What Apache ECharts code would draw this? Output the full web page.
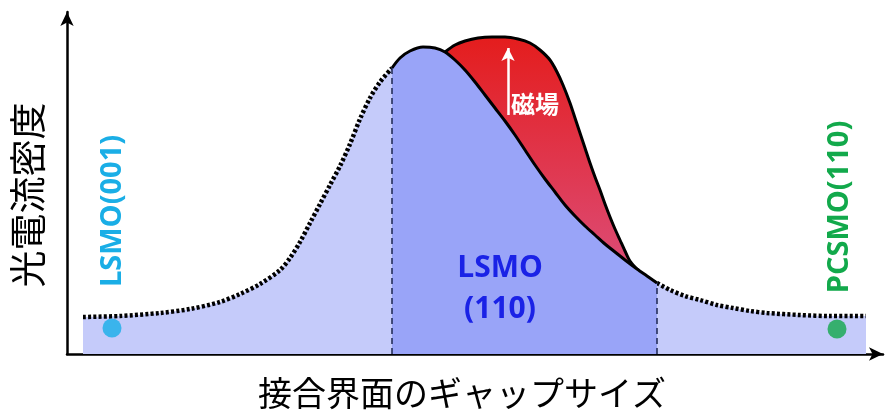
<!DOCTYPE html>
<html>
<head>
<meta charset="utf-8">
<script src="https://cdn.jsdelivr.net/npm/echarts@6/dist/echarts.min.js"></script>
<style>html,body{margin:0;padding:0;background:#fff}#c{width:891px;height:416px}</style>
</head>
<body>
<div id="c"></div>
<script>
// Schematic photocurrent density vs. gap size (arbitrary units)
var leftCurve = [[16,37],[53,38],[93,41],[123,45],[153,52],[173,60],[193,70],[213,84],[223,96],[233,112],[243,131],[253,150],[263,169],[273,188],[283,210],[293,235],[303,256],[313,272],[325,286]];
var midCurve = [[325,286],[333,296],[343,303],[356,307],[368,306],[378,302],[388,294],[398,284],[408,272],[418,259],[428,246],[438,233],[448,219],[458,204],[468,189],[478,175],[488,162],[498,149],[508,138],[518,128],[528,119],[538,110],[548,102],[558,94],[570,85],[580,78],[590,71]];
var fieldCurve = [[378,302],[388,309],[398,313],[411,316],[425,317],[438,317],[451,315],[463,311],[473,304],[483,294],[490,282],[496,269],[503,251],[508,236],[513,221],[518,206],[523,191],[528,177],[533,164],[538,150],[543,137],[548,125],[553,114],[558,103],[563,93],[573,82],[581,76],[590,71]];
var rightCurve = [[590,71],[603,64],[618,58],[633,54],[650,49],[666,46],[683,43],[700,41],[733,39],[763,38],[799,38]];
var lsmo001Point = [[45,26]];
var pcsmoPoint = [[770,25]];
var boundaryX = [325, 590];
var boundaryY = [286, 71];
var fieldArrow = {x: 441, from: 239, to: 306};
var labels = {
  yName: '光電流密度', xName: '接合界面のギャップサイズ',
  lsmo001: 'LSMO(001)', pcsmo: 'PCSMO(110)', lsmo110a: 'LSMO', lsmo110b: '(110)', field: '磁場'
};

var chart = echarts.init(document.getElementById('c'));
var dotted = {color: '#000', width: 4.5, type: [3, 2.2]};
chart.setOption({
  animation: false,
  grid: {left: 67, right: 8, top: 12, bottom: 62},
  xAxis: {type: 'value', min: 0, max: 816,
    axisLine: {show: true, symbol: ['none', 'arrow'], symbolSize: [10, 14], lineStyle: {color: '#000', width: 2.5}},
    axisTick: {show: false}, axisLabel: {show: false}, splitLine: {show: false}},
  yAxis: {type: 'value', min: 0, max: 342,
    axisLine: {show: true, symbol: ['none', 'arrow'], symbolSize: [10, 14], lineStyle: {color: '#000', width: 2.5}},
    axisTick: {show: false}, axisLabel: {show: false}, splitLine: {show: false}},
  series: [
    {type: 'line', data: leftCurve, smooth: 0.3, showSymbol: false, z: 2,
      lineStyle: dotted, areaStyle: {color: '#c5cbfa', opacity: 1}},
    {type: 'line', data: rightCurve, smooth: 0.3, showSymbol: false, z: 2,
      lineStyle: dotted, areaStyle: {color: '#c5cbfa', opacity: 1}},
    {type: 'line', data: fieldCurve, smooth: 0.3, showSymbol: false, z: 3,
      lineStyle: {color: '#000', width: 3},
      areaStyle: {opacity: 1, color: new echarts.graphic.LinearGradient(0, 0, 0, 1, [
        {offset: 0, color: '#e41d1d'}, {offset: 0.78, color: '#dc4f7c'}, {offset: 1, color: '#dc4f7c'}])}},
    {type: 'line', data: midCurve, smooth: 0.3, showSymbol: false, z: 4,
      lineStyle: {color: '#000', width: 3}, areaStyle: {color: '#99a4f8', opacity: 1},
      markLine: {silent: true, symbol: 'none', label: {show: false},
        lineStyle: {color: '#1c2650', width: 1.5, type: [6, 4]},
        data: [
          [{coord: [boundaryX[0], 0]}, {coord: [boundaryX[0], boundaryY[0]]}],
          [{coord: [boundaryX[1], 0]}, {coord: [boundaryX[1], boundaryY[1]]}]
        ]}},
    {type: 'line', data: [], z: 6,
      markLine: {silent: true, symbol: ['none', 'arrow'], symbolSize: [10, 13], label: {show: false},
        lineStyle: {color: '#fff', width: 2.5, type: 'solid'},
        data: [[{coord: [fieldArrow.x, fieldArrow.from]}, {coord: [fieldArrow.x, fieldArrow.to]}]]}},
    {type: 'scatter', data: lsmo001Point, symbolSize: 19, z: 5, itemStyle: {color: '#17aee8'}},
    {type: 'scatter', data: pcsmoPoint, symbolSize: 19, z: 5, itemStyle: {color: '#12a84b'}}
  ],
  graphic: [
    {type: 'text', x: 28, y: 195, rotation: Math.PI / 2, z: 10,
      style: {text: labels.yName, font: '37px "Noto Sans CJK JP"', fill: '#000', align: 'center', verticalAlign: 'middle'}},
    {type: 'text', x: 462, y: 393, z: 10,
      style: {text: labels.xName, font: '34px "Noto Sans CJK JP"', fill: '#000', align: 'center', verticalAlign: 'middle'}},
    {type: 'text', x: 113, y: 211, rotation: Math.PI / 2, z: 10,
      style: {text: labels.lsmo001, font: 'bold 29px "Open Sans"', fill: '#1aaee6', align: 'center', verticalAlign: 'middle'}},
    {type: 'text', x: 840, y: 207, rotation: Math.PI / 2, z: 10,
      style: {text: labels.pcsmo, font: 'bold 29px "Open Sans"', fill: '#12a94b', align: 'center', verticalAlign: 'middle'}},
    {type: 'text', x: 500, y: 268, z: 10,
      style: {text: labels.lsmo110a, font: 'bold 30px "Open Sans"', fill: '#1a22e6', align: 'center', verticalAlign: 'middle'}},
    {type: 'text', x: 500, y: 309, z: 10,
      style: {text: labels.lsmo110b, font: 'bold 30px "Open Sans"', fill: '#1a22e6', align: 'center', verticalAlign: 'middle'}},
    {type: 'text', x: 511, y: 104, z: 10,
      style: {text: labels.field, font: 'bold 24px "Noto Sans CJK JP"', fill: '#fff', align: 'left', verticalAlign: 'middle'}}
  ]
});
</script>
</body>
</html>
